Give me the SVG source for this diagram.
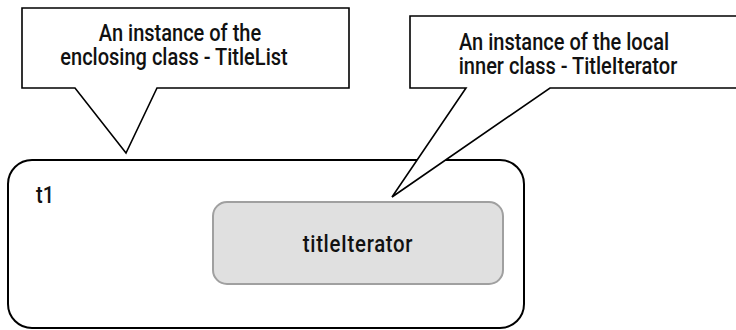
<svg xmlns="http://www.w3.org/2000/svg" width="736" height="330" viewBox="0 0 736 330">
  <style>
    .callout { fill: #ffffff; stroke: #000000; stroke-width: 1.6; stroke-linejoin: miter; }
    .outer { fill: #ffffff; stroke: #000000; stroke-width: 2; }
    .inner { fill: #e0e0e0; stroke: #a0a0a0; stroke-width: 2; }
    .lbl { font-family: Roboto, "Liberation Sans", Arial, sans-serif; font-weight: 500; font-size: 23px; fill: #111111; }
    .mid { text-anchor: middle; }
  </style>
  <rect width="736" height="330" fill="#ffffff"/>
  <g id="t1">
    <rect class="outer" x="8" y="160" width="516" height="168" rx="24" ry="24"/>
    <text class="lbl" transform="translate(36,203) scale(0.87,1)" x="0" y="0">t1</text>
  </g>
  <g id="titleIterator">
    <rect class="inner" x="213" y="202" width="290" height="82" rx="14" ry="14"/>
    <text class="lbl mid" transform="translate(358,252) scale(0.85,1)" x="0" y="0" style="font-size:24px; letter-spacing:0.8px">titleIterator</text>
  </g>
  <g id="callout-enclosing">
    <path class="callout" d="M22,8 H349 V88 H157 L126,153 L75,88 H22 Z"/>
    <text class="lbl mid" transform="translate(180,41) scale(0.87,1)" x="0" y="0">An instance of the</text>
    <text class="lbl mid" transform="translate(174,65) scale(0.87,1)" x="0" y="0">enclosing class - TitleList</text>
  </g>
  <g id="callout-inner">
    <path class="callout" d="M410,16 H745 V88 H550 L392,197 L466,88 H410 Z"/>
    <text class="lbl mid" transform="translate(564,50) scale(0.87,1)" x="0" y="0">An instance of the local</text>
    <text class="lbl mid" transform="translate(568,74) scale(0.87,1)" x="0" y="0">inner class - TitleIterator</text>
  </g>
  <g id="connectors"/>
</svg>
